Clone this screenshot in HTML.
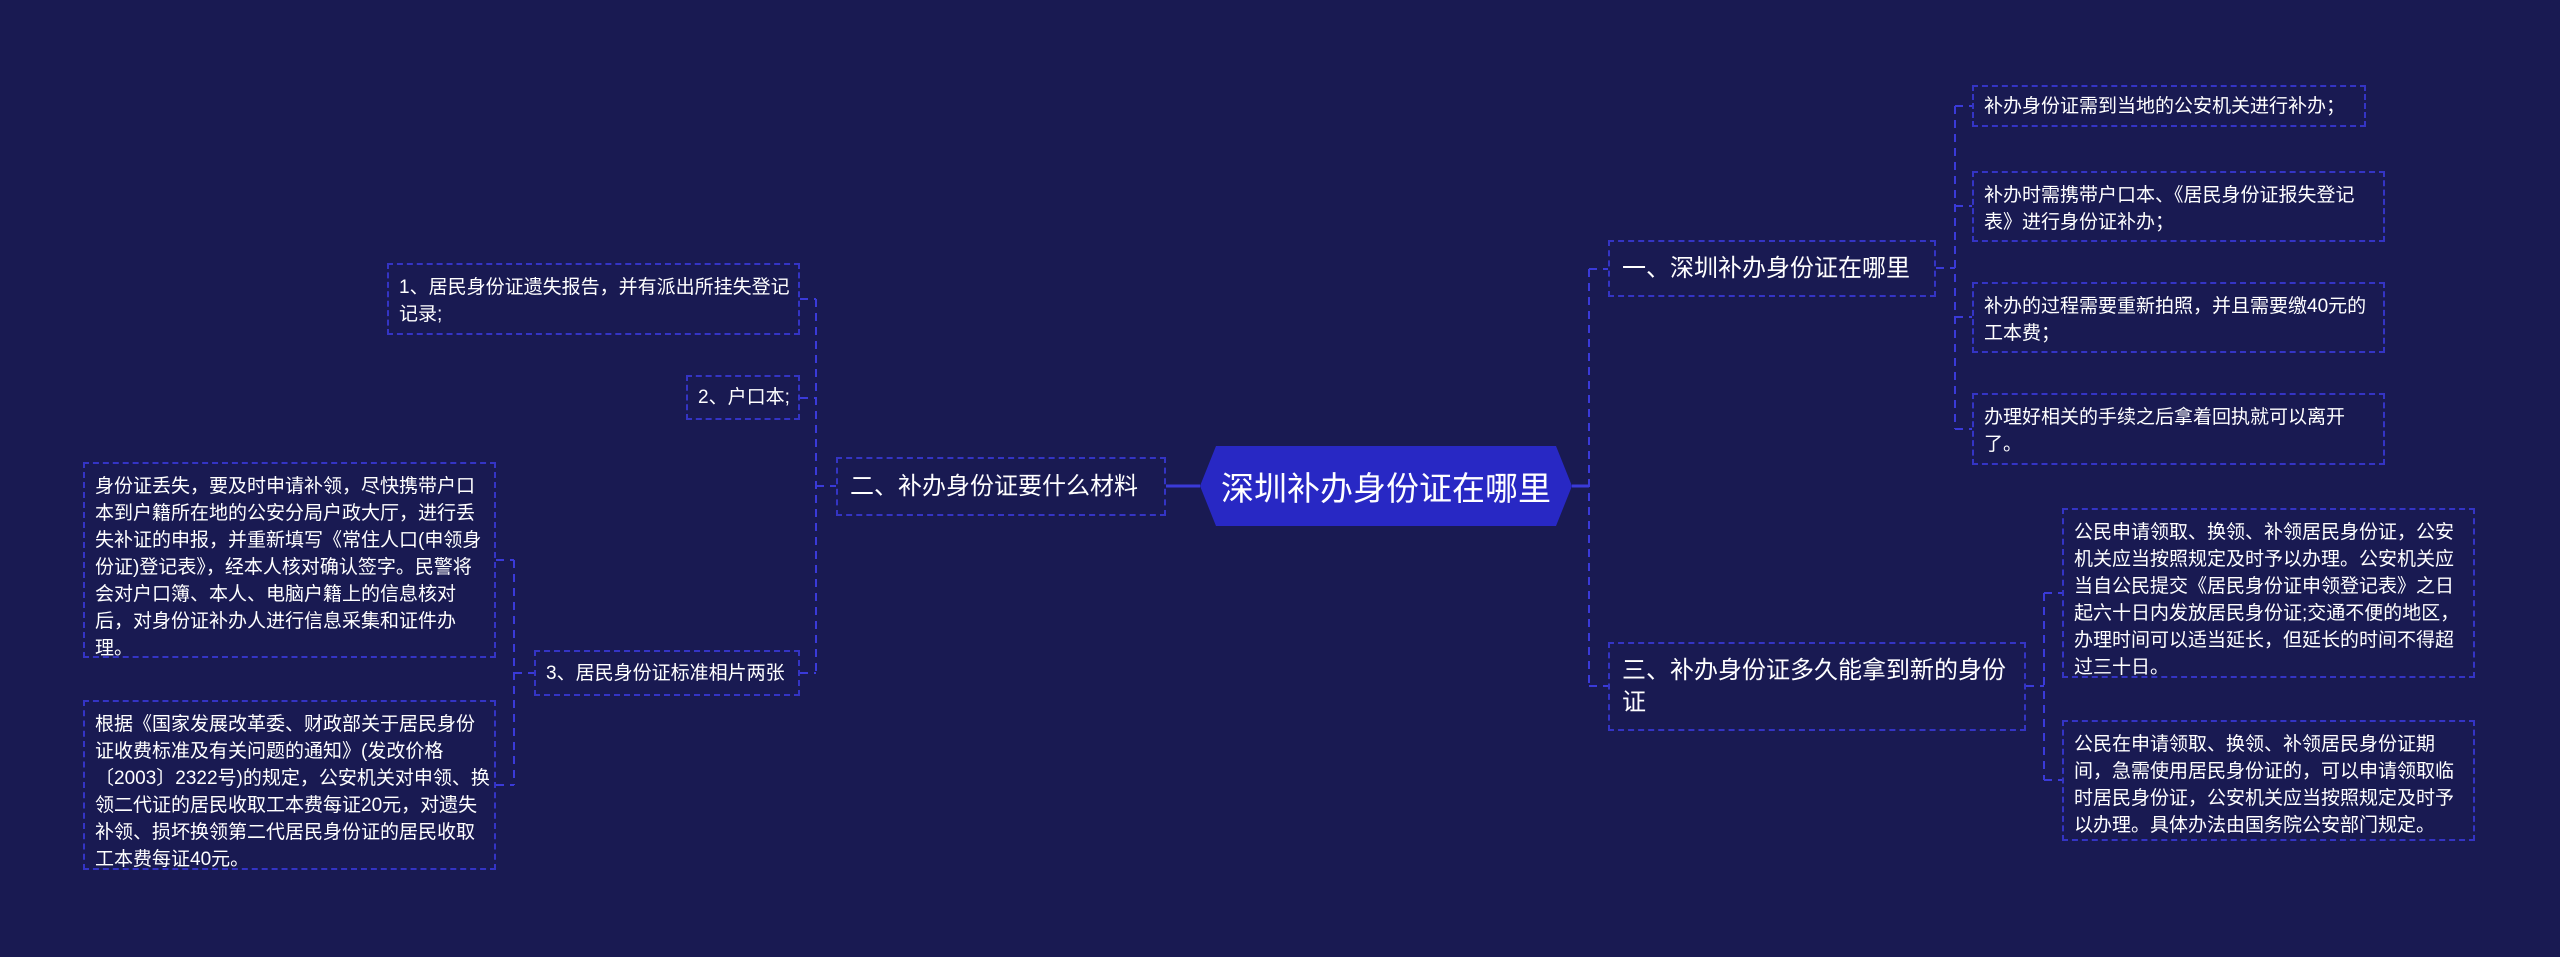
<!DOCTYPE html>
<html><head><meta charset="utf-8"><style>
body{margin:0;width:2560px;height:957px;background:#191a52;overflow:hidden;position:relative;font-family:"Liberation Sans","Noto Sans CJK SC",sans-serif;color:#fff}
.b{position:absolute;box-sizing:border-box;border:2px dashed #3434c4;padding:9px 4px 9px 10px;font-size:19px;line-height:27px}
.m{position:absolute;box-sizing:border-box;border:2px dashed #3434c4;font-size:24px;line-height:32px;padding:0 12px;display:flex;align-items:center}
.nw{white-space:nowrap}
svg{position:absolute;left:0;top:0}
</style></head><body>
<svg width="2560" height="957">
<g stroke="#3a3ad8" stroke-width="2" fill="none" stroke-dasharray="8,6">
<path d="M1589 269V686M1589 269H1608M1589 686H1608"/>
<path d="M1955 106V429M1936 268H1955M1955 106H1972M1955 206H1972M1955 317H1972M1955 429H1972"/>
<path d="M2044 593V780M2026 686H2044M2044 593H2062M2044 780H2062"/>
<path d="M816 299V673M800 299H816M800 398H816M800 673H816M816 486H836"/>
<path d="M514 560V785M496 560H514M496 785H514M514 673H534"/>
</g>
<g stroke="#3a3ad8" stroke-width="3"><path d="M1572 486H1589M1166 486H1200"/></g>
<polygon points="1216,446 1556,446 1572,486 1556,526 1216,526 1200,486" fill="#2828c4"/>
</svg>
<div style="position:absolute;left:1200px;top:446px;width:372px;height:80px;display:flex;align-items:center;justify-content:center;font-size:33px">深圳补办身份证在哪里</div>
<div class="m" style="left:1608px;top:240px;width:328px;height:57px">一、深圳补办身份证在哪里</div>
<div class="m" style="left:1608px;top:642px;width:418px;height:89px">三、补办身份证多久能拿到新的身份证</div>
<div class="m" style="left:836px;top:457px;width:330px;height:59px">二、补办身份证要什么材料</div>
<div class="b nw" style="left:1972px;top:85px;width:394px;height:42px;padding-top:6px">补办身份证需到当地的公安机关进行补办；</div>
<div class="b" style="left:1972px;top:171px;width:413px;height:71px">补办时需携带户口本、《居民身份证报失登记表》进行身份证补办；</div>
<div class="b" style="left:1972px;top:282px;width:413px;height:71px">补办的过程需要重新拍照，并且需要缴40元的工本费；</div>
<div class="b" style="left:1972px;top:393px;width:413px;height:72px">办理好相关的手续之后拿着回执就可以离开了。</div>
<div class="b" style="left:2062px;top:508px;width:413px;height:170px">公民申请领取、换领、补领居民身份证，公安机关应当按照规定及时予以办理。公安机关应当自公民提交《居民身份证申领登记表》之日起六十日内发放居民身份证;交通不便的地区，办理时间可以适当延长，但延长的时间不得超过三十日。</div>
<div class="b" style="left:2062px;top:720px;width:413px;height:121px">公民在申请领取、换领、补领居民身份证期间，急需使用居民身份证的，可以申请领取临时居民身份证，公安机关应当按照规定及时予以办理。具体办法由国务院公安部门规定。</div>
<div class="b" style="left:387px;top:263px;width:413px;height:72px">1、居民身份证遗失报告，并有派出所挂失登记记录;</div>
<div class="b nw" style="left:686px;top:375px;width:114px;height:45px;padding:7px 0 0 10px">2、户口本;</div>
<div class="b nw" style="left:534px;top:650px;width:266px;height:46px;padding-top:8px">3、居民身份证标准相片两张</div>
<div class="b" style="left:83px;top:462px;width:413px;height:196px">身份证丢失，要及时申请补领，尽快携带户口本到户籍所在地的公安分局户政大厅，进行丢失补证的申报，并重新填写《常住人口(申领身份证)登记表》，经本人核对确认签字。民警将会对户口簿、本人、电脑户籍上的信息核对后，对身份证补办人进行信息采集和证件办理。</div>
<div class="b" style="left:83px;top:700px;width:413px;height:170px">根据《国家发展改革委、财政部关于居民身份证收费标准及有关问题的通知》(发改价格〔2003〕2322号)的规定，公安机关对申领、换领二代证的居民收取工本费每证20元，对遗失补领、损坏换领第二代居民身份证的居民收取工本费每证40元。</div>
</body></html>
